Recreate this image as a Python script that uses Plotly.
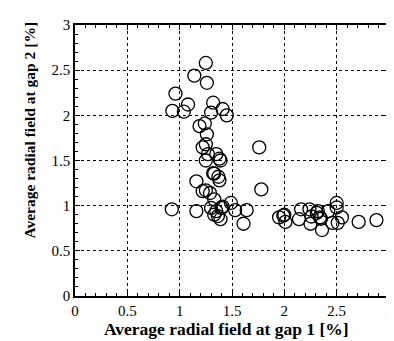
import plotly.graph_objects as go

gap1 = [1.25, 1.14, 1.26, 0.96, 1.08, 0.93, 1.04, 1.32, 1.30, 1.41, 1.45,
        1.19, 1.24, 1.26, 1.25, 1.22, 1.27, 1.35, 1.38, 1.25, 1.39,
        1.33, 1.37, 1.38, 1.32, 1.16, 1.22, 1.25, 1.29, 1.33,
        0.925, 1.16, 1.30, 1.35, 1.33, 1.365, 1.39, 1.40, 1.41, 1.49, 1.53, 1.64, 1.61,
        1.76, 1.78,
        1.95, 1.99, 2.01, 2.00, 2.14, 2.16, 2.25, 2.24, 2.26, 2.31, 2.32, 2.34, 2.35, 2.36,
        2.42, 2.46, 2.50, 2.50, 2.51, 2.55, 2.71, 2.88]
gap2 = [2.58, 2.44, 2.36, 2.24, 2.12, 2.05, 2.04, 2.14, 2.03, 2.07, 2.00,
        1.88, 1.91, 1.79, 1.68, 1.645, 1.57, 1.57, 1.52, 1.50, 1.50,
        1.355, 1.32, 1.28, 1.36, 1.27, 1.16, 1.17, 1.14, 1.07,
        0.96, 0.94, 0.975, 0.94, 0.90, 0.885, 0.85, 0.975, 0.99, 1.03, 0.95, 0.95, 0.80,
        1.645, 1.18,
        0.87, 0.89, 0.82, 0.90, 0.85, 0.96, 0.80, 0.96, 0.88, 0.92, 0.94, 0.87, 0.855, 0.73,
        0.94, 0.81, 1.03, 0.98, 0.81, 0.87, 0.82, 0.84]
tick_vals = [0, 0.5, 1, 1.5, 2, 2.5, 3]
tick_text = ["0", "0.5", "1", "1.5", "2", "2.5", "3"]
x_title = "Average radial field at gap 1 [%]"
y_title = "Average radial field at gap 2 [%]"

fig = go.Figure(go.Scatter(
    x=gap1, y=gap2, mode="markers",
    marker=dict(symbol="circle-open", size=13, color="black", line=dict(width=1.3)),
))

axis_common = dict(
    range=[0, 3], showline=True, linecolor="black", linewidth=1.5, mirror="allticks",
    ticks="inside", ticklen=5, tickcolor="black", tickwidth=1,
    showgrid=True, gridcolor="black", griddash="dot", gridwidth=1, zeroline=False,
    tickfont=dict(family="Liberation Serif", size=15, color="black"),
    minor=dict(ticks="inside", dtick=0.1, ticklen=3, tickcolor="black", showgrid=False),
    tickvals=tick_vals, ticktext=tick_text,
)

fig.update_layout(
    width=394, height=341, margin=dict(l=67, r=9, t=12, b=53),
    paper_bgcolor="white", plot_bgcolor="white", showlegend=False,
    xaxis=axis_common,
    yaxis=axis_common,
    annotations=[
        dict(text="<b>" + x_title + "</b>", xref="paper", yref="paper",
             x=0.484, y=-0.123, xanchor="center", yanchor="middle", showarrow=False,
             font=dict(family="Liberation Serif", size=17.5, color="black")),
        dict(text="<b>" + y_title + "</b>", xref="paper", yref="paper", textangle=-90,
             x=-0.145, y=0.612, xanchor="center", yanchor="middle", showarrow=False,
             font=dict(family="Liberation Serif", size=15.5, color="black")),
    ],
)

fig.write_html("out.html")
